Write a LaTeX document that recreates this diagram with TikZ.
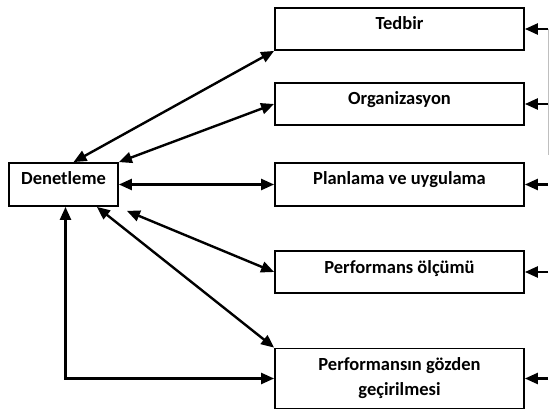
\documentclass[tikz,border=0pt]{standalone}
\usepackage{fontspec}
\setmainfont{Carlito}
\usetikzlibrary{arrows.meta}

\begin{document}
\begin{tikzpicture}[x=1pt,y=-1pt,
    kutu0/.style={draw,line width=1.8pt,inner xsep=0pt,inner ysep=0pt,
      font=\fontsize{18.5}{25}\selectfont\bfseries},
    kutu/.style={kutu0,text height=22pt,text depth=20pt},
    ok/.style={line width=2.4pt,-{Triangle[length=13pt,width=11pt]}},
    ciftok/.style={line width=2.4pt,{Triangle[length=13pt,width=11pt]}-{Triangle[length=13pt,width=11pt]}}]
  \useasboundingbox (0,0) rectangle (549,414);

  %left box
  \node[kutu,minimum width=109pt,text depth=21pt] (denet) at (63.5,184.5) {Denetleme};

  %right column
  \node[kutu,minimum width=249pt] (tedbir) at (399.5,29) {Tedbir};
  \node[kutu,minimum width=249pt] (org) at (399.5,104) {Organizasyon};
  \node[kutu,minimum width=249pt,text depth=21pt] (plan) at (399.5,184.5) {Planlama ve uygulama};
  \node[kutu,minimum width=249pt] (olcum) at (399.5,272) {Performans ölçümü};
  \node[kutu0,minimum width=249pt,minimum height=60pt,align=center] (gozden)
        at (399.5,378.5) {Performansın gözden\\geçirilmesi};

  %links to the left box
  \draw[ciftok] ([xshift=10pt]denet.north) -- (tedbir.south west);
  \draw[ciftok] (denet.north east) -- (org.west);
  \draw[ciftok] (denet.east) -- (plan.west);
  \draw[ciftok] ([xshift=8pt,yshift=-4pt]denet.south east) -- (olcum.west);
  \draw[ciftok] ([xshift=-22pt]denet.south east) -- (gozden.north west);
  \draw[ciftok] ([xshift=2pt]denet.south) |- (gozden.west);

  %feed from the right edge
  \coordinate (r1) at (548,29);
  \coordinate (r2) at (548,104);
  \coordinate (r3) at (548,184.5);
  \coordinate (r4) at (548,272);
  \coordinate (r5) at (548,378.5);
  \draw[gray!50,line width=0.6pt] (r1) -- (548,155);
  \foreach \r/\b in {r1/tedbir,r2/org,r3/plan,r4/olcum,r5/gozden}
    \draw[ok] (\r) -- (\b.east);
\end{tikzpicture}
\end{document}
